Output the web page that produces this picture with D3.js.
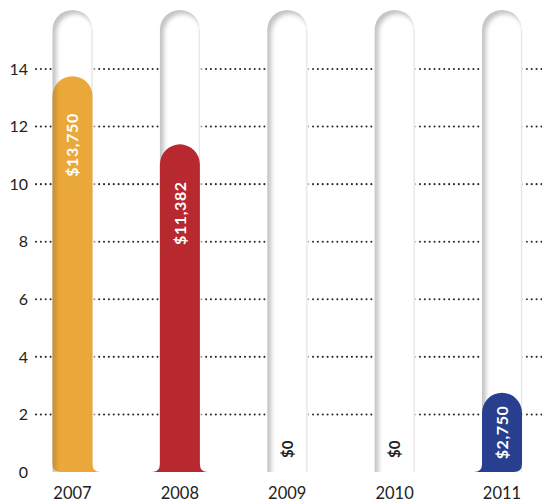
<!DOCTYPE html>
<html>
<head>
<meta charset="utf-8">
<script src="https://cdn.jsdelivr.net/npm/d3@7"></script>
<style>
  html, body { margin: 0; padding: 0; background: #fff; }
  svg { display: block; font-family: Lato, "Open Sans", sans-serif; }
</style>
</head>
<body>
<div id="chart"></div>
<script>
// data (amounts in dollars, axis in thousands)
const years = ["2007", "2008", "2009", "2010", "2011"];
const amounts = [13750, 11382, 0, 0, 2750];
const valueLabels = ["$13,750", "$11,382", "$0", "$0", "$2,750"];
const barColors = ["#eba83a", "#b7282f", "#999999", "#999999", "#283f8f"];
const yTicks = [0, 2, 4, 6, 8, 10, 12, 14];

const width = 542, height = 502;
const barW = 40, r = 20, foot = 8;
const trackTop = 10;

// bottom shapes of the bars: left / right
const feet = [["round", "flare"], ["flare", "flare"], ["round", "round"], ["round", "round"], ["flare", "round"]];

let svg = d3.select("#chart").append("svg")
    .attr("width", width)
    .attr("height", height);

let x = d3.scalePoint()
    .domain(years)
    .range([72.5, 502]);

let y = d3.scaleLinear()
    .domain([0, 14])
    .range([472, 69]);

let defs = svg.append("defs");
defs.append("filter").attr("id", "soft")
    .attr("x", "-30%").attr("y", "-10%").attr("width", "160%").attr("height", "120%")
    .append("feGaussianBlur").attr("stdDeviation", 2);
defs.append("clipPath").attr("id", "plotclip")
    .append("rect").attr("x", 0).attr("y", 0).attr("width", width).attr("height", y(0));

barColors.forEach((c, i) => {
    let g = defs.append("linearGradient").attr("id", "bargrad" + i)
        .attr("x1", "0%").attr("x2", "100%");
    g.append("stop").attr("offset", "0%").attr("stop-color", d3.color(c).darker(0.5));
    g.append("stop").attr("offset", "14%").attr("stop-color", c);
    g.append("stop").attr("offset", "100%").attr("stop-color", c);
});

// column shape with rounded top and a foot
function colPath(x0, w, yTop, yBot, fl, fr) {
    let p = d3.path();
    p.moveTo(x0, yTop + w / 2);
    p.arc(x0 + w / 2, yTop + w / 2, w / 2, Math.PI, 0);
    p.lineTo(x0 + w, yBot - foot);
    if (fr === "flare") p.quadraticCurveTo(x0 + w, yBot, x0 + w + foot, yBot);
    else p.quadraticCurveTo(x0 + w, yBot, x0 + w - foot, yBot);
    if (fl === "flare") {
        p.lineTo(x0 - foot, yBot);
        p.quadraticCurveTo(x0, yBot, x0, yBot - foot);
    } else {
        p.lineTo(x0 + foot, yBot);
        p.quadraticCurveTo(x0, yBot, x0, yBot - foot);
    }
    p.closePath();
    return p.toString();
}

// dotted grid lines (skip 0)
svg.append("g")
    .selectAll("line")
    .data(yTicks.filter(d => d > 0))
    .enter().append("line")
    .attr("x1", 36)
    .attr("x2", width)
    .attr("y1", d => y(d))
    .attr("y2", d => y(d))
    .attr("stroke", "#2a2a2a")
    .attr("stroke-width", 2.1)
    .attr("stroke-linecap", "round")
    .attr("stroke-dasharray", "0.01 4.85");

// y labels
svg.append("g")
    .selectAll("text")
    .data(yTicks)
    .enter().append("text")
    .attr("x", 28)
    .attr("y", d => y(d))
    .attr("dy", "0.36em")
    .attr("text-anchor", "end")
    .attr("font-size", 16)
    .attr("fill", "#222")
    .text(d => d);

// white tracks with soft shadow
let tracks = svg.append("g").attr("clip-path", "url(#plotclip)");
years.forEach(yr => {
    let x0 = x(yr) - barW / 2;
    tracks.append("path")
        .attr("d", colPath(x0, barW, trackTop, y(0) + 10, "round", "round"))
        .attr("fill", "#c4c4c4");
    tracks.append("path")
        .attr("d", colPath(x0 + 4, barW - 2, trackTop + 4, y(0) + 20, "round", "round"))
        .attr("fill", "#fff")
        .attr("filter", "url(#soft)");
    // faint shade on the right edge
    tracks.append("rect")
        .attr("x", x0 + barW - 1)
        .attr("y", trackTop + r)
        .attr("width", 1.2)
        .attr("height", y(0) - trackTop - r)
        .attr("fill", "#e6e6e6");
});

// bars
let bars = svg.append("g");
amounts.forEach((v, i) => {
    if (v <= 0) return;
    let x0 = x(years[i]) - barW / 2;
    bars.append("path")
        .attr("d", colPath(x0, barW, y(v / 1000), y(0), feet[i][0], feet[i][1]))
        .attr("fill", "url(#bargrad" + i + ")");
});

// value labels
amounts.forEach((v, i) => {
    let cx = x(years[i]);
    if (v > 0) {
        let top = y(v / 1000);
        let t = svg.append("text")
            .attr("text-anchor", "end")
            .attr("dy", "0.36em")
            .attr("font-size", 16)
            .attr("font-weight", "bold")
            .attr("fill", "#fff")
            .attr("letter-spacing", 0.6)
            .text(valueLabels[i]);
        let len = t.node().getComputedTextLength();
        let off = Math.min(37, (y(0) - top - len) / 2);
        t.attr("transform", "translate(" + cx + "," + (top + off) + ")rotate(-90)");
    } else {
        svg.append("text")
            .attr("text-anchor", "start")
            .attr("dy", "0.36em")
            .attr("font-size", 15)
            .attr("font-weight", "bold")
            .attr("fill", "#222")
            .attr("transform", "translate(" + cx + "," + 458 + ")rotate(-90)")
            .text(valueLabels[i]);
    }
});

// x labels
svg.append("g")
    .selectAll("text")
    .data(years)
    .enter().append("text")
    .attr("x", d => x(d))
    .attr("y", 499)
    .attr("text-anchor", "middle")
    .attr("font-size", 16.5)
    .attr("fill", "#222")
    .text(d => d);
</script>
</body>
</html>
